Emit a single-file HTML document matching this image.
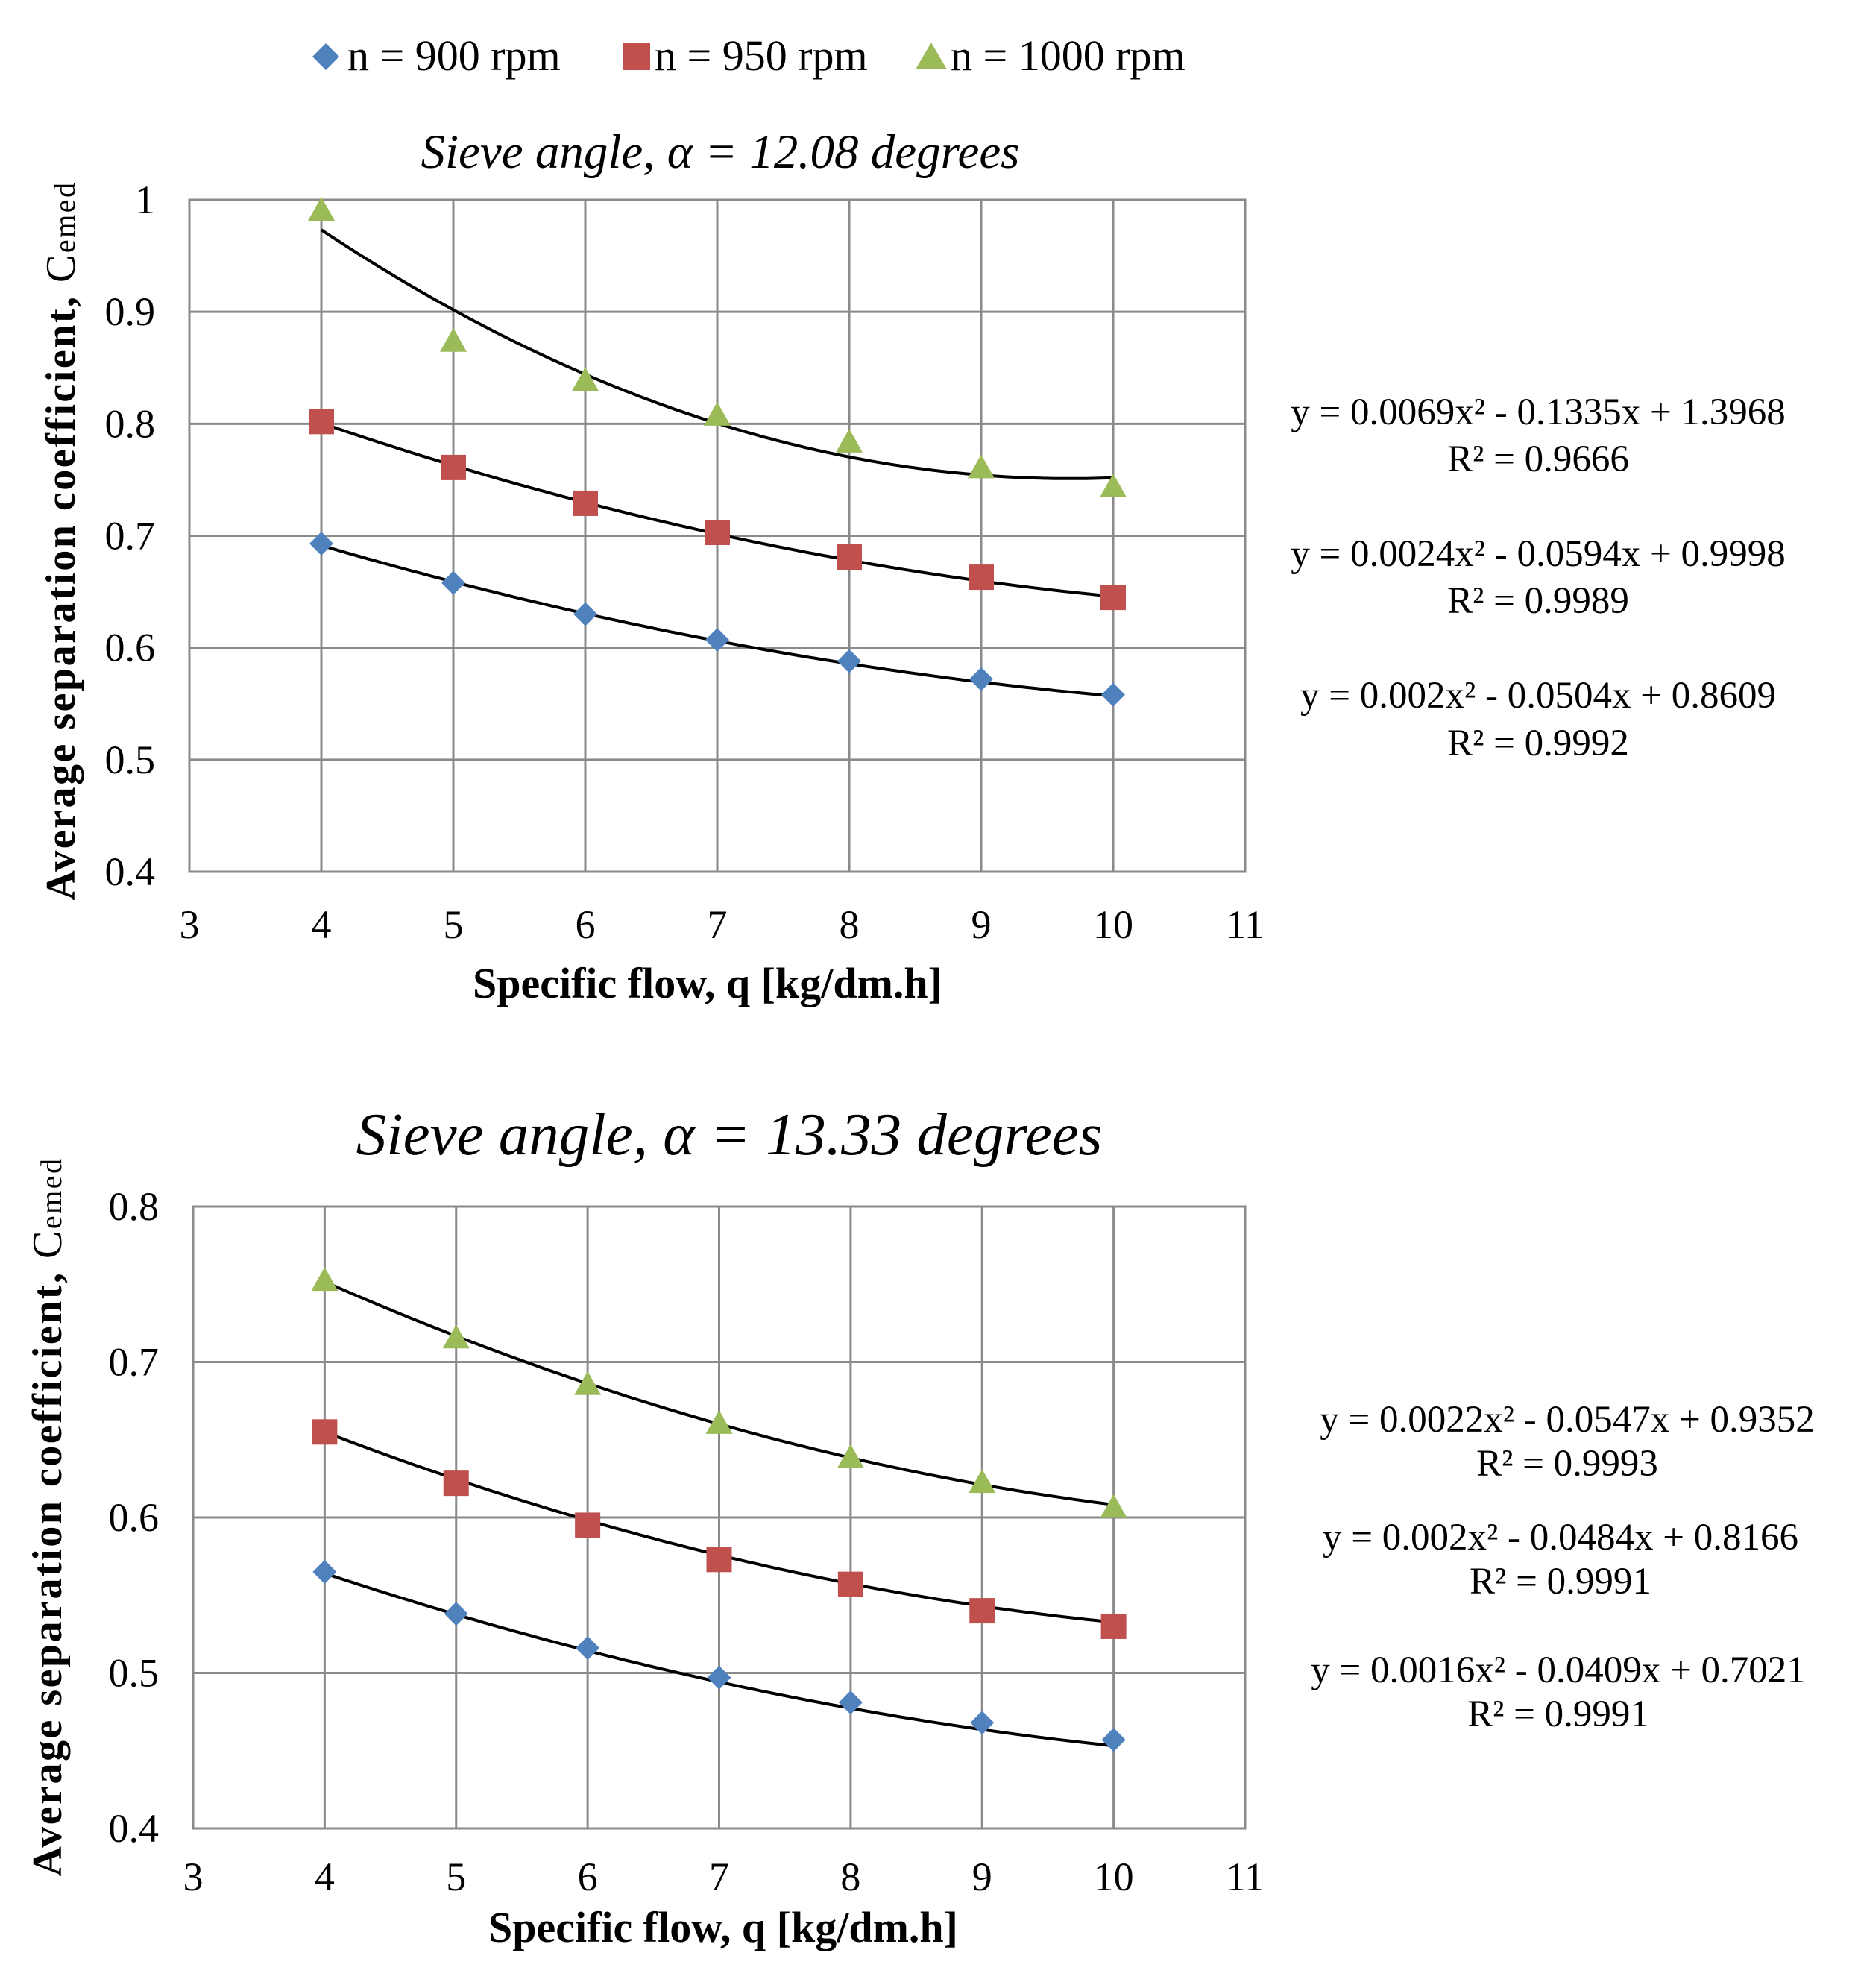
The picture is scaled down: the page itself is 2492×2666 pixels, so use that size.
<!DOCTYPE html>
<html><head><meta charset="utf-8"><style>
html,body{margin:0;padding:0;background:#fff;}
svg{display:block;font-family:"Liberation Serif",serif;}
</style></head><body>
<svg id="svg" width="2492" height="2666" viewBox="0 0 2492 2666" xmlns="http://www.w3.org/2000/svg">
<g>
 <g><path d="M437 58 L455 76 L437 94 L419 76 Z" fill="#4f81bd"/><text x="466" y="94" font-size="58">n = 900 rpm</text></g>
 <g><rect x="836" y="58" width="36" height="36" fill="#c0504d"/><text x="878" y="94" font-size="58">n = 950 rpm</text></g>
 <g><path d="M1249 57 L1270 93 L1228 93 Z" fill="#9bbb59"/><text x="1275" y="94" font-size="58">n = 1000 rpm</text></g>
</g>
<text x="966" y="225" font-size="65" font-style="italic" text-anchor="middle">Sieve angle, α = 12.08 degrees</text>
<text x="978" y="1548" font-size="81" font-style="italic" text-anchor="middle">Sieve angle, α = 13.33 degrees</text>
<g id="c1"></g>
<g id="c2"></g>
</svg>
<script>
const xCats=[4,5,6,7,8,9,10];
const xTicks=[3,4,5,6,7,8,9,10,11];
const top900=[0.693,0.658,0.630,0.607,0.588,0.572,0.558];
const top950=[0.802,0.761,0.729,0.703,0.681,0.663,0.645];
const top1000=[0.99,0.873,0.838,0.807,0.783,0.760,0.743];
const topYTicks=[0.4,0.5,0.6,0.7,0.8,0.9,1];
const topYLabels=["0.4","0.5","0.6","0.7","0.8","0.9","1"];
const topFit900=[0.002,-0.0504,0.8609];
const topFit950=[0.0024,-0.0594,0.9998];
const topFit1000=[0.0069,-0.1335,1.3968];
const bot900=[0.565,0.538,0.516,0.497,0.481,0.468,0.457];
const bot950=[0.655,0.622,0.595,0.573,0.557,0.540,0.530];
const bot1000=[0.752,0.715,0.685,0.660,0.638,0.622,0.606];
const botYTicks=[0.4,0.5,0.6,0.7,0.8];
const botYLabels=["0.4","0.5","0.6","0.7","0.8"];
const botFit900=[0.0016,-0.0409,0.7021];
const botFit950=[0.002,-0.0484,0.8166];
const botFit1000=[0.0022,-0.0547,0.9352];
const topEq=["y = 0.0069x² - 0.1335x + 1.3968","R² = 0.9666","y = 0.0024x² - 0.0594x + 0.9998","R² = 0.9989","y = 0.002x² - 0.0504x + 0.8609","R² = 0.9992"];
const botEq=["y = 0.0022x² - 0.0547x + 0.9352","R² = 0.9993","y = 0.002x² - 0.0484x + 0.8166","R² = 0.9991","y = 0.0016x² - 0.0409x + 0.7021","R² = 0.9991"];
const NS="http://www.w3.org/2000/svg";
function mk(p,t,a){const e=document.createElementNS(NS,t);for(const k in a)e.setAttribute(k,a[k]);p.appendChild(e);return e;}
function draw(g,cfg){
 const X=v=>cfg.L+(v-3)/8*(cfg.R-cfg.L);
 const Y=v=>cfg.B-(v-cfg.y0)/(cfg.y1-cfg.y0)*(cfg.B-cfg.T);
 cfg.yt.forEach((v,i)=>{
  const l=mk(g,'line',{x1:cfg.L,x2:cfg.R,y1:Y(v),y2:Y(v),stroke:'#8a8a8a','stroke-width':3});
  
  
  const t=mk(g,'text',{x:cfg.L-46,y:Y(v)+18,'font-size':54,'text-anchor':'end'});t.textContent=cfg.yl[i];
  
  
 });
 xTicks.forEach(v=>{
  const l=mk(g,'line',{x1:X(v),x2:X(v),y1:cfg.T,y2:cfg.B,stroke:'#8a8a8a','stroke-width':3});
  
  
  const t=mk(g,'text',{x:X(v),y:cfg.xty,'font-size':54,'text-anchor':'middle'});t.textContent=v;
  
  
 });
 const fr=mk(g,'rect',{x:cfg.L,y:cfg.T,width:cfg.R-cfg.L,height:cfg.B-cfg.T,fill:'none',stroke:'#8a8a8a','stroke-width':3});
 
 
 const series=[[cfg.s900,cfg.f900,'900'],[cfg.s950,cfg.f950,'950'],[cfg.s1000,cfg.f1000,'1000']];
 series.forEach(([d,f,n])=>{
  let p='';for(let x=4;x<=10.0001;x+=0.05){const y=f[0]*x*x+f[1]*x+f[2];p+=(p?'L':'M')+X(x).toFixed(1)+' '+Y(y).toFixed(1);}
  const tl=mk(g,'path',{d:p,fill:'none',stroke:'#000','stroke-width':4});
  
  
 });
 series.forEach(([d,f,n])=>{
  d.forEach((v,i)=>{
   const cx=X(xCats[i]),cy=Y(v);let m;
   if(n==='900')m=mk(g,'path',{d:`M${cx} ${cy-16}L${cx+16} ${cy}L${cx} ${cy+16}L${cx-16} ${cy}Z`,fill:'#4f81bd'});
   else if(n==='950')m=mk(g,'rect',{x:cx-17,y:cy-17,width:34,height:34,fill:'#c0504d'});
   else m=mk(g,'path',{d:`M${cx} ${cy-19}L${cx+18} ${cy+13}L${cx-18} ${cy+13}Z`,fill:'#9bbb59'});
   
   
  });
 });
 const xt=mk(g,'text',{x:cfg.xtx,y:cfg.xtY,'font-size':58,'font-weight':'bold','text-anchor':'middle','xml:space':'preserve'});xt.textContent='Specific flow,  q   [kg/dm.h]';
 
 
 const yt=mk(g,'text',{x:0,y:0,'font-size':56,'font-weight':'bold','letter-spacing':2.5,'text-anchor':'middle',transform:`translate(${cfg.ytx},${cfg.yty}) rotate(-90)`});
 yt.innerHTML='Average separation coefficient, <tspan font-weight="normal">C</tspan><tspan font-weight="normal" font-size="40">emed</tspan>';
 
 
 cfg.eq.forEach((s,i)=>{
  const t=mk(g,'text',{x:cfg.eqx[Math.floor(i/2)],y:cfg.eqy[i],'font-size':51,'text-anchor':'middle'});t.textContent=s;
  
  
 });
}
draw(document.getElementById('c1'),{L:254,R:1670,T:268,B:1169,y0:0.4,y1:1,yt:topYTicks,yl:topYLabels,xty:1258,
 s900:top900,s950:top950,s1000:top1000,f900:topFit900,f950:topFit950,f1000:topFit1000,
 xtx:949,xtY:1338,ytx:100,yty:725,eq:topEq,eqx:[2063,2063,2063],eqy:[569,632,759,822,949,1013]});
draw(document.getElementById('c2'),{L:259,R:1670,T:1618,B:2452,y0:0.4,y1:0.8,yt:botYTicks,yl:botYLabels,xty:2535,
 s900:bot900,s950:bot950,s1000:bot1000,f900:botFit900,f950:botFit950,f1000:botFit1000,
 xtx:970,xtY:2604,ytx:82,yty:2034,eq:botEq,eqx:[2102,2093,2090],eqy:[1920,1979,2078,2137,2256,2315]});
</script>
</body></html>
